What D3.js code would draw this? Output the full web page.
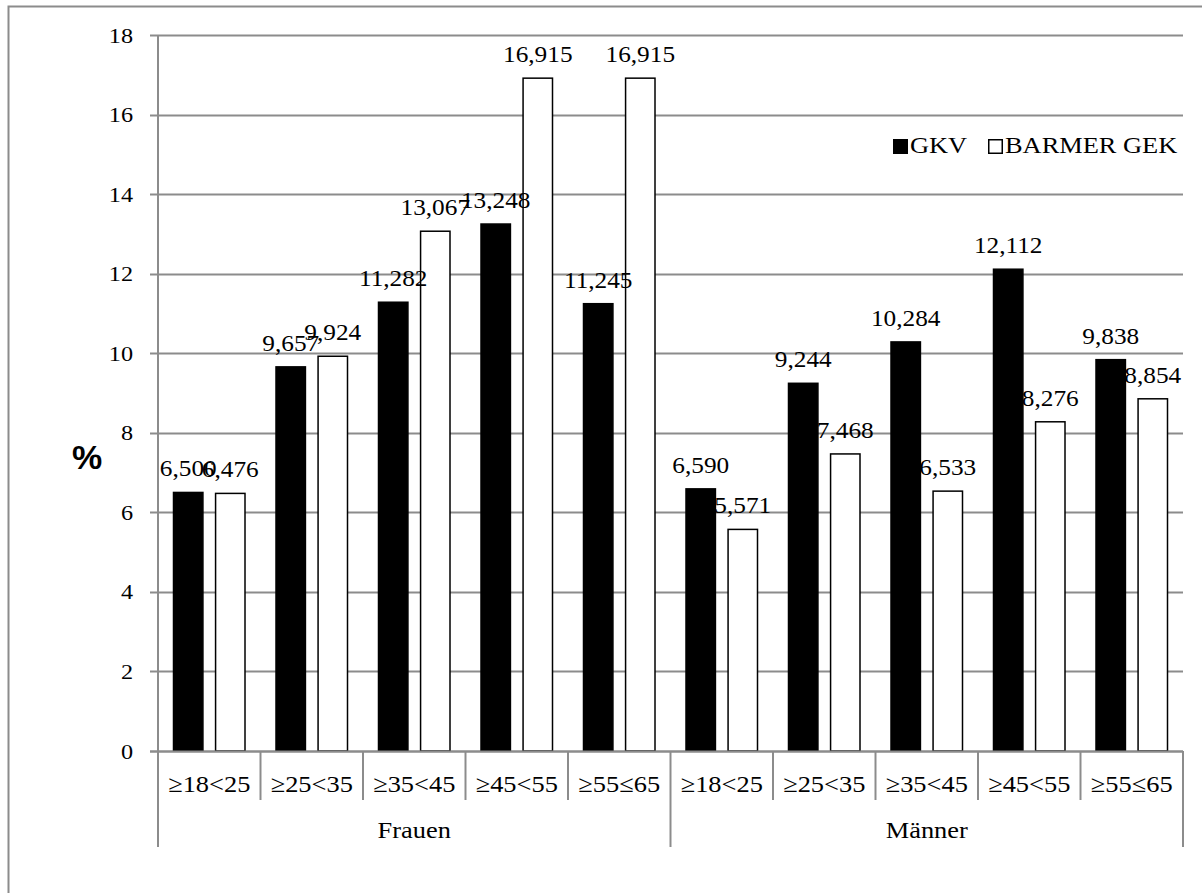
<!DOCTYPE html>
<html>
<head>
<meta charset="utf-8">
<script src="https://cdn.jsdelivr.net/npm/d3@7"></script>
<style>
  body { margin: 0; background: #fff; }
  svg { display: block; }
  text { font-family: "Liberation Serif", "Times New Roman", serif; fill: #000; }
</style>
</head>
<body>
<svg id="chart" width="1202" height="893"></svg>
<script>
const groups = ["Frauen", "Männer"];
const ageBands = ["≥18<25", "≥25<35", "≥35<45", "≥45<55", "≥55≤65"];
const seriesNames = ["GKV", "BARMER GEK"];
const gkvFrauen = [6.500, 9.657, 11.282, 13.248, 11.245];
const barmerFrauen = [6.476, 9.924, 13.067, 16.915, 16.915];
const gkvMaenner = [6.590, 9.244, 10.284, 12.112, 9.838];
const barmerMaenner = [5.571, 7.468, 6.533, 8.276, 8.854];
const yTicks = [0, 2, 4, 6, 8, 10, 12, 14, 16, 18];

const categories = [];
groups.forEach((g, gi) => ageBands.forEach((a, ai) => {
  const gkv = gi === 0 ? gkvFrauen : gkvMaenner;
  const bar = gi === 0 ? barmerFrauen : barmerMaenner;
  categories.push({ id: g + "|" + a, group: g, band: a, values: [gkv[ai], bar[ai]] });
}));

const svg = d3.select("#chart");
const plotLeft = 158, plotRight = 1183, plotTop = 35, plotBottom = 751;
const grid = "#8c8c8c";
const SX = 1.1; // horizontal stretch of text as in reference

// outer border
svg.append("rect").attr("x", 8.5).attr("y", 6.5).attr("width", 1210).attr("height", 900)
  .attr("fill", "none").attr("stroke", grid).attr("stroke-width", 2);

const y = d3.scaleLinear().domain([0, 18]).range([plotBottom, plotTop]);
const x = d3.scaleBand().domain(categories.map(d => d.id)).range([plotLeft, plotRight]).paddingInner(0).paddingOuter(0);
const xs = d3.scaleBand().domain(seriesNames).range([15.5, x.bandwidth() - 15.5]).paddingInner(21.5 / 71.5);

// gridlines
svg.append("g").selectAll("line").data(yTicks).join("line")
  .attr("x1", plotLeft - 8).attr("x2", plotRight)
  .attr("y1", d => Math.round(y(d)) + 0.5).attr("y2", d => Math.round(y(d)) + 0.5)
  .attr("stroke", grid).attr("stroke-width", 2);

// y axis line
svg.append("line").attr("x1", plotLeft).attr("x2", plotLeft).attr("y1", plotTop).attr("y2", plotBottom)
  .attr("stroke", grid).attr("stroke-width", 2);

// y tick labels
svg.append("g").selectAll("text").data(yTicks).join("text")
  .attr("transform", d => `translate(133,${y(d) + 7.5}) scale(${SX},1)`)
  .attr("text-anchor", "end").attr("font-size", 22).text(d => d);

// bars
const colors = ["#000", "#fff"];
const catG = svg.append("g").selectAll("g").data(categories).join("g")
  .attr("transform", d => `translate(${x(d.id)},0)`);
catG.selectAll("rect").data(d => d.values.map((v, i) => ({ v, s: seriesNames[i], i }))).join("rect")
  .attr("x", d => xs(d.s)).attr("width", xs.bandwidth())
  .attr("y", d => y(d.v)).attr("height", d => plotBottom - y(d.v))
  .attr("fill", d => colors[d.i]).attr("stroke", "#000").attr("stroke-width", 1.5);
catG.selectAll("text").data(d => d.values.map((v, i) => ({ v, s: seriesNames[i], i }))).join("text")
  .attr("transform", d => `translate(${xs(d.s) + xs.bandwidth() / 2},${y(d.v) - 16}) scale(${SX},1)`)
  .attr("text-anchor", "middle").attr("font-size", 23)
  .text(d => d3.format(".3f")(d.v).replace(".", ","));

// category axis
svg.append("line").attr("x1", plotLeft - 8).attr("x2", plotRight).attr("y1", plotBottom + 0.5).attr("y2", plotBottom + 0.5)
  .attr("stroke", grid).attr("stroke-width", 2);
const sepPositions = categories.map(d => x(d.id)).concat([plotRight]);
svg.append("g").selectAll("line").data(sepPositions).join("line")
  .attr("x1", d => d).attr("x2", d => d)
  .attr("y1", plotBottom).attr("y2", (d, i) => (i % 5 === 0) ? 847 : 800)
  .attr("stroke", grid).attr("stroke-width", 2);
svg.append("g").selectAll("text").data(categories).join("text")
  .attr("transform", d => `translate(${x(d.id) + x.bandwidth() / 2},792) scale(${SX},1)`)
  .attr("text-anchor", "middle").attr("font-size", 24).text(d => d.band);
svg.append("g").selectAll("text").data(groups).join("text")
  .attr("transform", (g, gi) => `translate(${plotLeft + (plotRight - plotLeft) * (gi * 2 + 1) / 4},838) scale(${SX},1)`)
  .attr("text-anchor", "middle").attr("font-size", 24).text(d => d);

// y axis title
svg.append("text").attr("x", 87).attr("y", 469).attr("text-anchor", "middle")
  .style("font-family", "'Liberation Sans', Arial, sans-serif").attr("font-weight", "bold")
  .attr("font-size", 34).text("%");

// legend
const legend = svg.append("g");
const legX = [893, 988];
seriesNames.forEach((s, i) => {
  legend.append("rect").attr("x", legX[i] + 0.75).attr("y", 139.75).attr("width", 13.5).attr("height", 13.5)
    .attr("fill", colors[i]).attr("stroke", "#000").attr("stroke-width", 1.5);
  legend.append("text").attr("transform", `translate(${legX[i] + 17},153) scale(${SX},1)`)
    .attr("font-size", 24).text(s);
});
</script>
</body>
</html>
